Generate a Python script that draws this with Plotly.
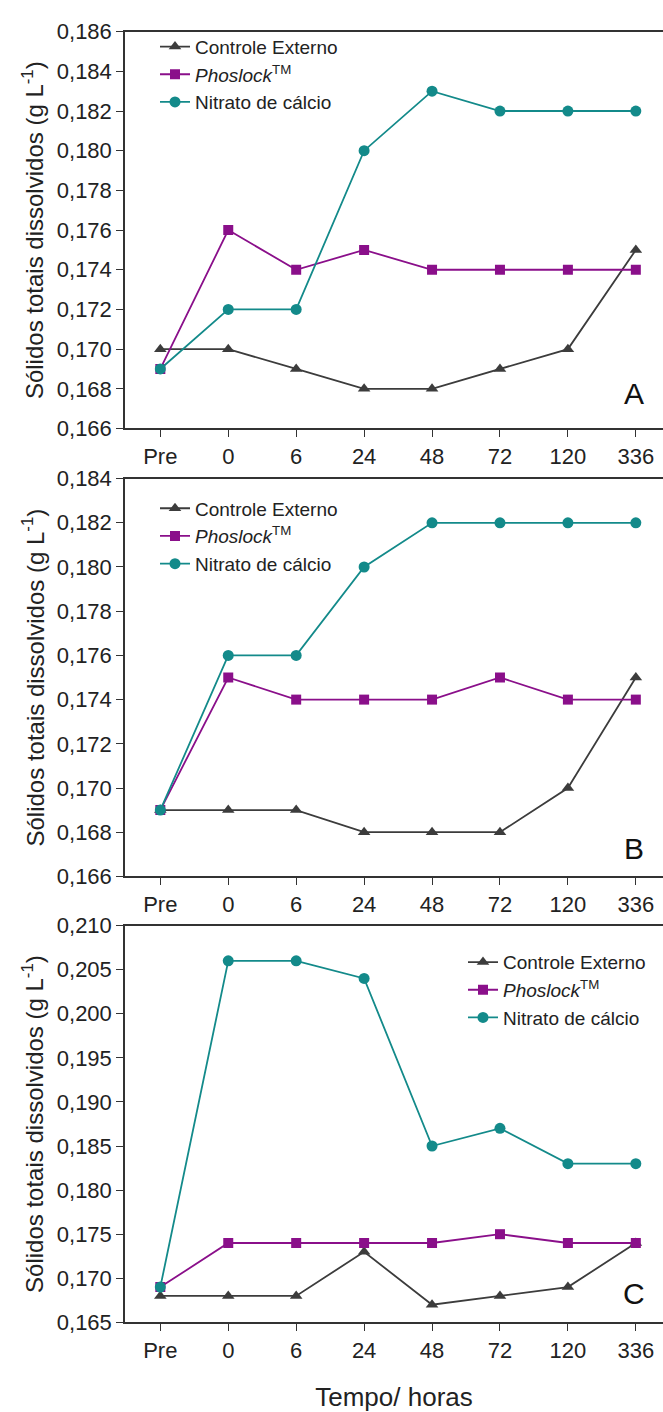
import plotly.graph_objects as go

categories = ["Pre", "0", "6", "24", "48", "72", "120", "336"]

# Panel A
a_controle = [0.170, 0.170, 0.169, 0.168, 0.168, 0.169, 0.170, 0.175]
a_phoslock = [0.169, 0.176, 0.174, 0.175, 0.174, 0.174, 0.174, 0.174]
a_nitrato = [0.169, 0.172, 0.172, 0.180, 0.183, 0.182, 0.182, 0.182]
# Panel B
b_controle = [0.169, 0.169, 0.169, 0.168, 0.168, 0.168, 0.170, 0.175]
b_phoslock = [0.169, 0.175, 0.174, 0.174, 0.174, 0.175, 0.174, 0.174]
b_nitrato = [0.169, 0.176, 0.176, 0.180, 0.182, 0.182, 0.182, 0.182]
# Panel C
c_controle = [0.168, 0.168, 0.168, 0.173, 0.167, 0.168, 0.169, 0.174]
c_phoslock = [0.169, 0.174, 0.174, 0.174, 0.174, 0.175, 0.174, 0.174]
c_nitrato = [0.169, 0.206, 0.206, 0.204, 0.185, 0.187, 0.183, 0.183]

series_names = ["Controle Externo", "<i>Phoslock</i><sup>TM</sup>", "Nitrato de cálcio"]
panel_labels = ["A", "B", "C"]
y_ranges = [(0.166, 0.186, 0.002), (0.166, 0.184, 0.002), (0.165, 0.210, 0.005)]

W, H = 663, 1412
FONT = "Liberation Sans, Arial, sans-serif"
colors = ["#3c3c3c", "#8a0f8a", "#138a8a"]
symbols = ["triangle-up", "square", "circle"]

panels = [
    (a_controle, a_phoslock, a_nitrato),
    (b_controle, b_phoslock, b_nitrato),
    (c_controle, c_phoslock, c_nitrato),
]
# pixel extents of each plot area (top, bottom)
pix = [(20, 424), (475, 880), (930, 1334)]
legend_pos = [(155, 16), (155, 486), (463, 948)]
label_y = [388, 852, 1305]

def py(p):
    return 1 - p / H

def px(p):
    return p / W

fig = go.Figure()
layout = dict(
    width=W, height=H, margin=dict(l=0, r=0, t=0, b=0),
    paper_bgcolor="white", plot_bgcolor="white",
    separators=",.",
    font=dict(family=FONT, color="#222222"),
    annotations=[],
)

for i, data in enumerate(panels):
    ax = "" if i == 0 else str(i + 1)
    leg = "legend" if i == 0 else f"legend{i + 1}"
    for j, vals in enumerate(data):
        fig.add_trace(go.Scatter(
            x=categories, y=vals, name=series_names[j], mode="lines+markers",
            line=dict(color=colors[j], width=1.8),
            marker=dict(symbol=symbols[j], size=11 if j != 1 else 10, color=colors[j]),
            xaxis="x" + ax, yaxis="y" + ax, legend=leg,
        ))
    top, bot = pix[i]
    lo, hi, dt = y_ranges[i]
    layout["xaxis" + ax] = dict(
        domain=[px(125), 1], anchor="y" + ax, range=[-0.52, 7.4],
        type="category", showline=True, linecolor="#333333", linewidth=1.5,
        mirror=True, ticks="outside", ticklen=7, tickcolor="#333333",
        showgrid=False, tickfont=dict(size=22, family=FONT),
        title=dict(text="Tempo/ horas", font=dict(size=26, family=FONT), standoff=26) if i == 2 else None,
    )
    layout["yaxis" + ax] = dict(
        domain=[py(bot), py(top)], anchor="x" + ax, range=[lo, hi], dtick=dt, tick0=lo,
        tickformat=".3f", showline=True, linecolor="#333333", linewidth=1.5,
        ticks="outside", ticklen=7, tickcolor="#333333", showgrid=False, zeroline=False,
        tickfont=dict(size=22, family=FONT),
    )
    lx, ly = legend_pos[i]
    layout[leg] = dict(
        x=px(lx), y=py(ly), xanchor="left", yanchor="top", xref="paper", yref="paper",
        bgcolor="rgba(0,0,0,0)", font=dict(size=19, family=FONT, color="#222222"),
        tracegroupgap=0, itemwidth=30,
    )
    layout["annotations"].append(dict(
        text="Sólidos totais dissolvidos (g L<sup>-1</sup>)", textangle=-90,
        x=px(33), y=py((top + bot) / 2), xref="paper", yref="paper",
        xanchor="center", yanchor="middle",
        showarrow=False, font=dict(size=24, family=FONT, color="#222222"),
    ))
    layout["annotations"].append(dict(
        text=panel_labels[i], x=px(634), y=py(label_y[i]), xref="paper", yref="paper",
        xanchor="center", yanchor="middle",
        showarrow=False, font=dict(size=30, family=FONT, color="#111111"),
    ))

fig.update_layout(**layout)
fig.write_html("out.html")
